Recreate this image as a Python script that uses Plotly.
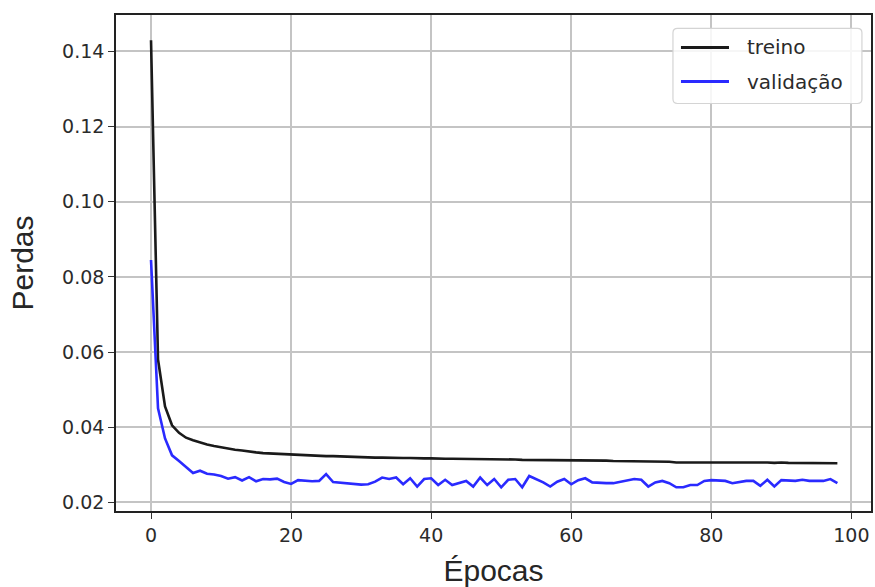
import plotly.graph_objects as go

# Loss per epoch
epochs = list(range(99))
treino = [
    0.1430, 0.0580, 0.0455, 0.0405, 0.0385, 0.0372, 0.0365, 0.0359, 0.0354, 0.0350,
    0.0346, 0.0343, 0.0340, 0.0338, 0.0335, 0.0333, 0.0331, 0.0330, 0.0329, 0.0328,
    0.0327, 0.0326, 0.0325, 0.0324, 0.0324, 0.0323, 0.0323, 0.0322, 0.0321, 0.0321,
    0.0320, 0.0319, 0.0319, 0.0319, 0.0318, 0.0318, 0.0318, 0.0318, 0.0317, 0.0317,
    0.0317, 0.0316, 0.0316, 0.0316, 0.0316, 0.0315, 0.0315, 0.0315, 0.0315, 0.0314,
    0.0314, 0.0314, 0.0314, 0.0313, 0.0313, 0.0313, 0.0312, 0.0312, 0.0312, 0.0312,
    0.0312, 0.0311, 0.0311, 0.0311, 0.0311, 0.0311, 0.0310, 0.0310, 0.0310, 0.0310,
    0.0310, 0.0309, 0.0309, 0.0309, 0.0308, 0.0306, 0.0306, 0.0308, 0.0308, 0.0308,
    0.0308, 0.0307, 0.0307, 0.0307, 0.0306, 0.0307, 0.0306, 0.0306, 0.0306, 0.0305,
    0.0306, 0.0305, 0.0305, 0.0305, 0.0305, 0.0304, 0.0304, 0.0304, 0.0304,
]
validacao = [
    0.0845, 0.0450, 0.0370, 0.0325, 0.0310, 0.0295, 0.0278, 0.0284, 0.0276, 0.0274,
    0.0270, 0.0263, 0.0267, 0.0258, 0.0267, 0.0256, 0.0262, 0.0261, 0.0263, 0.0254,
    0.0249, 0.0259, 0.0257, 0.0256, 0.0257, 0.0275, 0.0254, 0.0252, 0.0251, 0.0249,
    0.0247, 0.0248, 0.0255, 0.0266, 0.0262, 0.0266, 0.0248, 0.0264, 0.0242, 0.0262,
    0.0264, 0.0246, 0.0260, 0.0246, 0.0251, 0.0257, 0.0242, 0.0266, 0.0246, 0.0262,
    0.0240, 0.0260, 0.0262, 0.0240, 0.0270, 0.0262, 0.0253, 0.0242, 0.0255, 0.0262,
    0.0248, 0.0259, 0.0264, 0.0253, 0.0251, 0.0251, 0.0251, 0.0255, 0.0257, 0.0262,
    0.0260, 0.0242, 0.0253, 0.0257, 0.0251, 0.0240, 0.0240, 0.0246, 0.0246, 0.0257,
    0.0259, 0.0259, 0.0257, 0.0251, 0.0255, 0.0257, 0.0257, 0.0244, 0.0260, 0.0242,
    0.0259, 0.0257, 0.0257, 0.0260, 0.0257, 0.0257, 0.0257, 0.0262, 0.0251,
]

x_ticks = [0, 20, 40, 60, 80, 100]
y_ticks = [0.02, 0.04, 0.06, 0.08, 0.10, 0.12, 0.14]
y_tick_labels = ["0.02", "0.04", "0.06", "0.08", "0.10", "0.12", "0.14"]

series_names = ["treino", "validação"]
series_colors = ["#1a1a1a", "#2a2aff"]

TICK_FONT = dict(family="DejaVu Sans", size=19, color="#2b2b2b")
TITLE_FONT = dict(family="Liberation Sans", size=30, color="#262626")

fig = go.Figure()
for name, ys, color in zip(series_names, [treino, validacao], series_colors):
    fig.add_trace(go.Scatter(
        x=epochs, y=ys, mode="lines", name=name,
        line=dict(color=color, width=2.6),
        showlegend=False,
    ))

axis_common = dict(
    showline=True, mirror=True, linecolor="#222222", linewidth=1.6,
    showgrid=True, gridcolor="#c4c4c4", gridwidth=1.6,
    ticks="outside", ticklen=6, tickwidth=1.4, tickcolor="#333333",
    tickfont=TICK_FONT, zeroline=False, automargin=False,
)

fig.update_xaxes(
    range=[-5.0, 102.8], tickvals=x_ticks,
    title=dict(text="Épocas", font=TITLE_FONT, standoff=20),
    **axis_common,
)
fig.update_yaxes(
    range=[0.01769, 0.1497], tickvals=y_ticks, ticktext=y_tick_labels,
    title=dict(text="Perdas", font=TITLE_FONT, standoff=20),
    **axis_common,
)

# Legend box drawn in paper coordinates (upper right, rounded corners)
bx0, bx1, by0, by1 = 0.7377, 0.988, 0.8216, 0.973
rx, ry = 0.006, 0.009
legend_path = (
    f"M {bx0 + rx},{by1} L {bx1 - rx},{by1} Q {bx1},{by1} {bx1},{by1 - ry} "
    f"L {bx1},{by0 + ry} Q {bx1},{by0} {bx1 - rx},{by0} "
    f"L {bx0 + rx},{by0} Q {bx0},{by0} {bx0},{by0 + ry} "
    f"L {bx0},{by1 - ry} Q {bx0},{by1} {bx0 + rx},{by1} Z"
)
shapes = [dict(
    type="path", path=legend_path, xref="paper", yref="paper",
    line=dict(color="#d4d4d4", width=1.2), fillcolor="rgba(255,255,255,0.85)",
    layer="above",
)]
annotations = []
legend_rows = [0.9345, 0.8659]
for name, color, ly in zip(series_names, series_colors, legend_rows):
    shapes.append(dict(
        type="line", xref="paper", yref="paper",
        x0=0.7483, x1=0.8119, y0=ly, y1=ly,
        line=dict(color=color, width=2.8), layer="above",
    ))
    annotations.append(dict(
        text=name, xref="paper", yref="paper", x=0.8335, y=ly,
        xanchor="left", yanchor="middle", showarrow=False,
        font=dict(family="DejaVu Sans", size=20, color="#2b2b2b"),
    ))

fig.update_layout(
    width=875, height=587,
    margin=dict(l=116, r=4, t=15, b=76),
    paper_bgcolor="white", plot_bgcolor="white",
    shapes=shapes, annotations=annotations,
)

fig.write_html("out.html")
